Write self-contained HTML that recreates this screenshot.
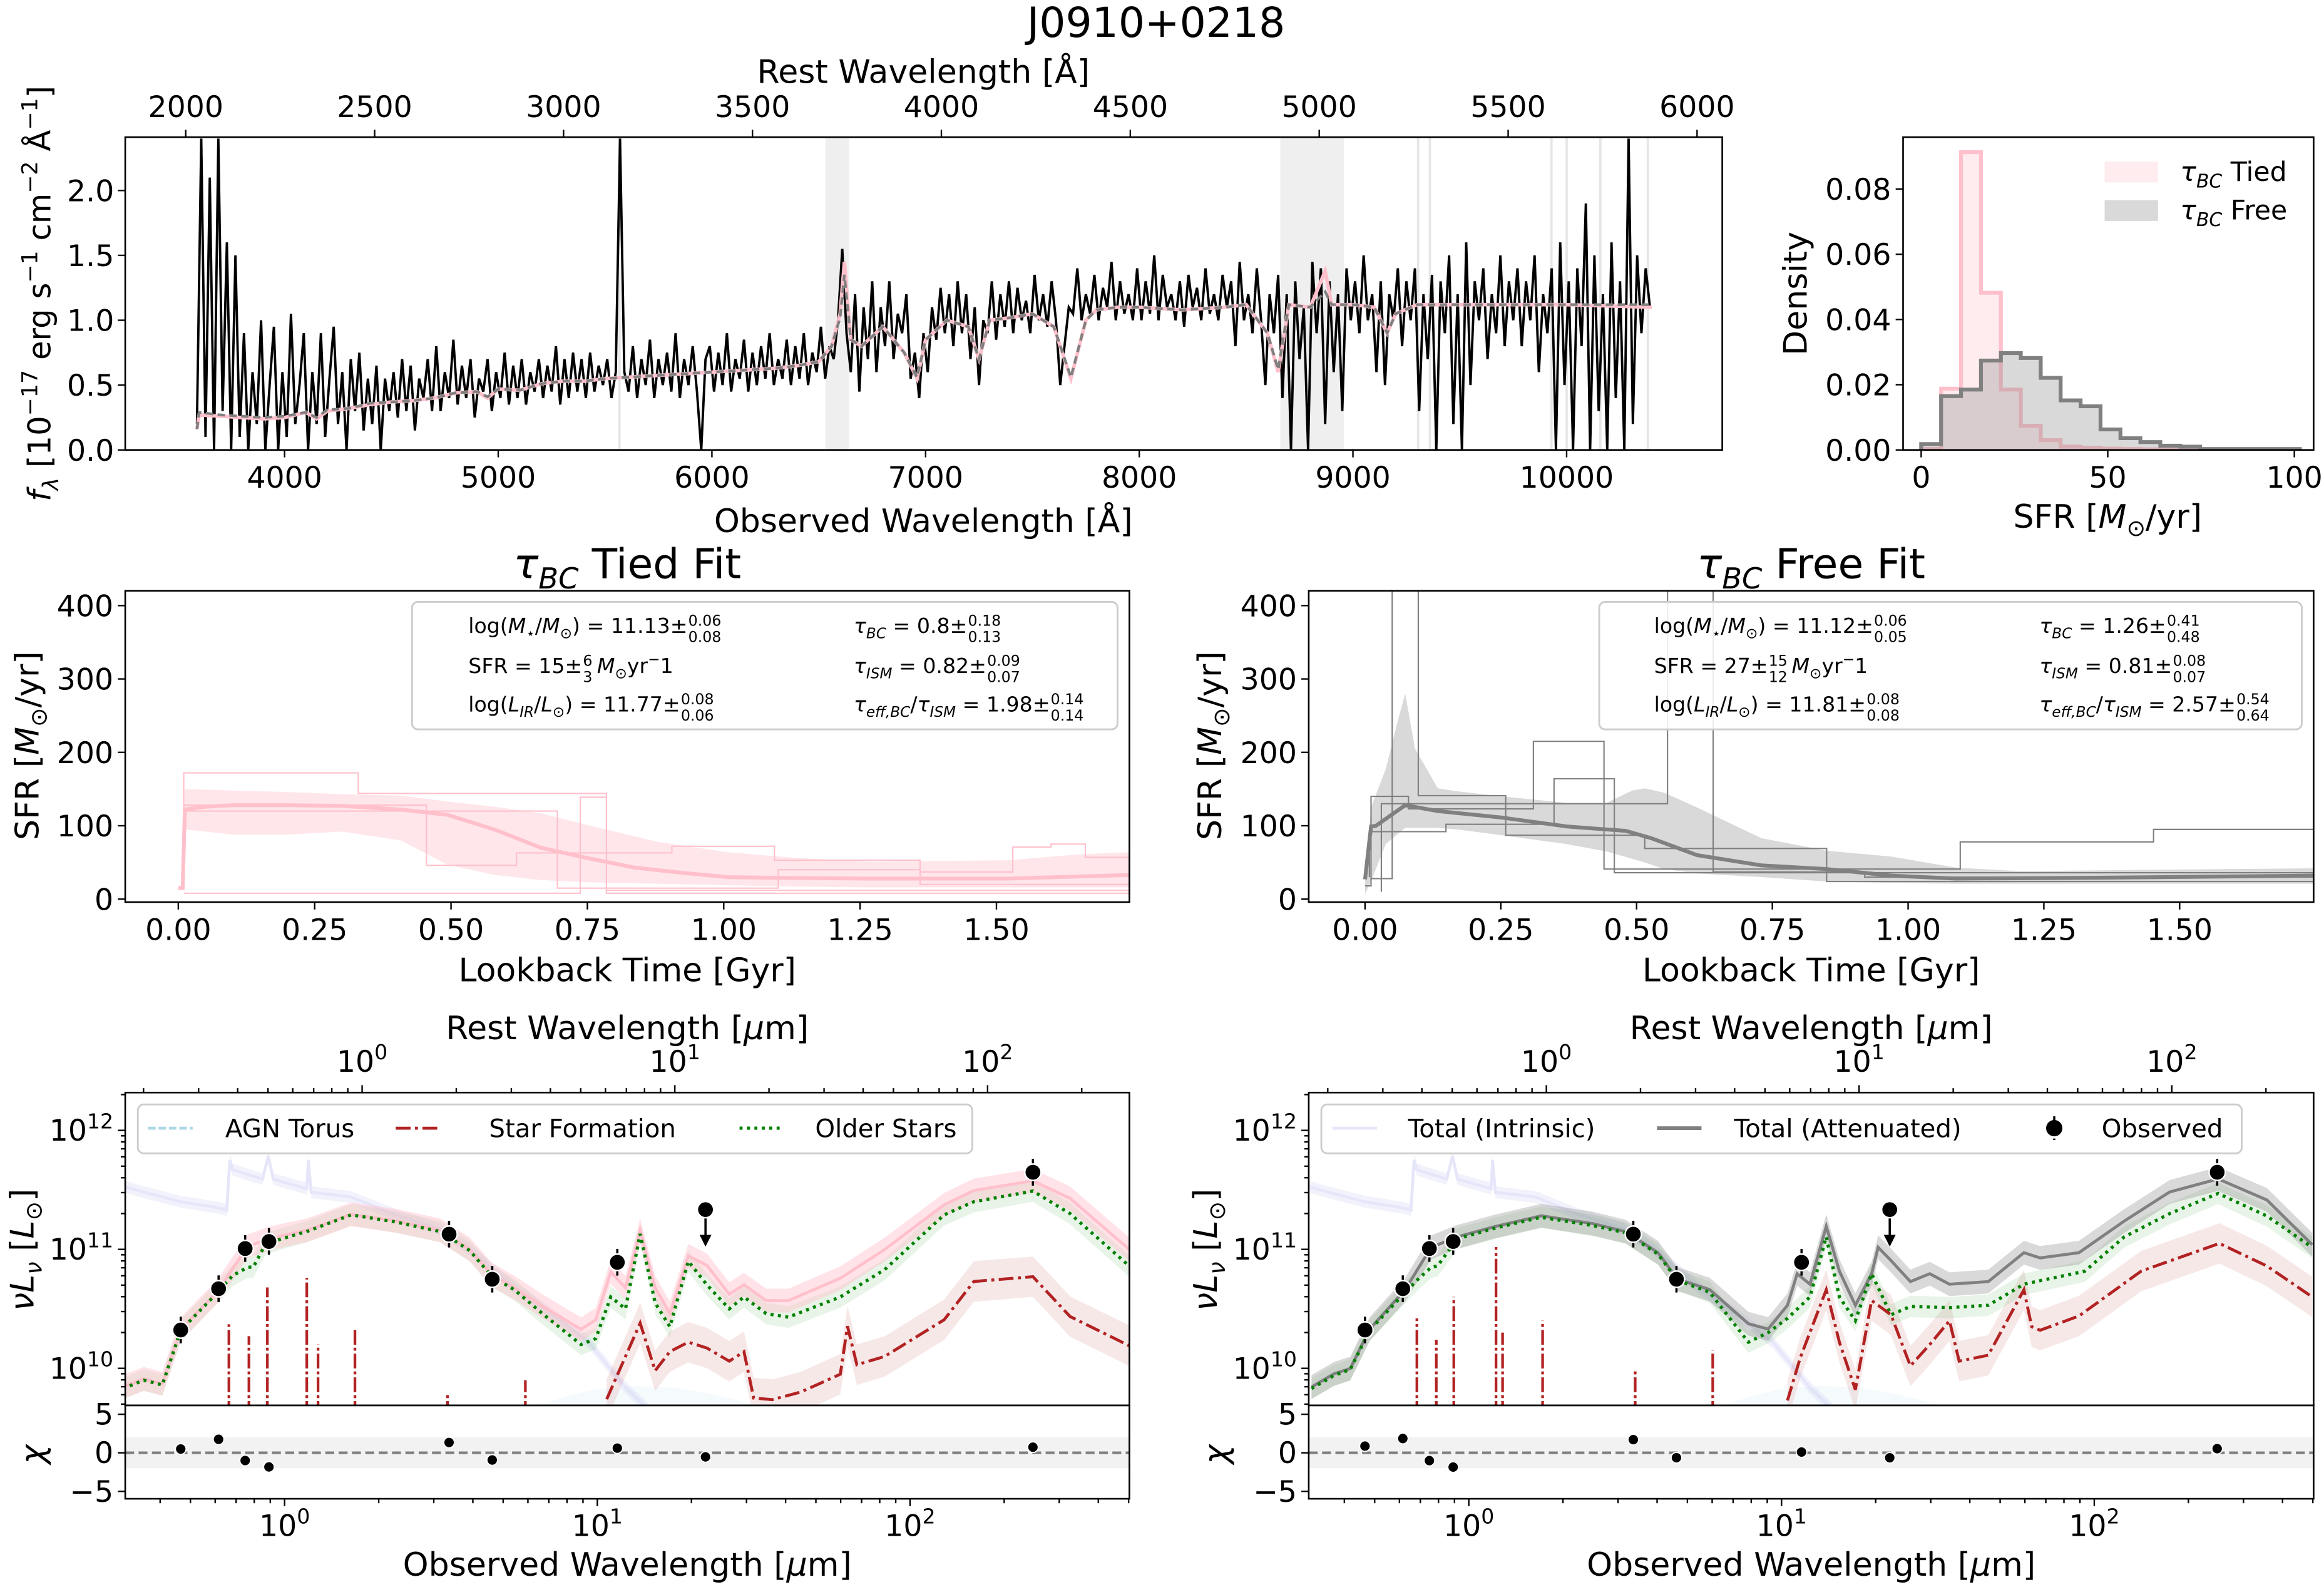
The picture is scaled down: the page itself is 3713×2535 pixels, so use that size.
<!DOCTYPE html>
<html><head><meta charset="utf-8">
<style>
html,body{margin:0;padding:0;background:#fff}
svg{display:block}
text{font-family:"DejaVu Sans","Liberation Sans",sans-serif;fill:#000}
</style></head>
<body>
<svg id="fig" xmlns="http://www.w3.org/2000/svg" width="3713" height="2535" viewBox="0 0 1568 1070.5"><defs id="defs"></defs></svg>
<script>
// ---------------- DATA ----------------
// Spectrum (observed frame, 20 A grid starting 3590 A)
const specLam0 = 3590;
const specDLam = 20;
const specFlux = [
0.2,2.4,0.1,2.1,0.0,2.4,0.3,1.6,0.0,1.5,
0.1,0.9,0.0,0.6,0.2,1.0,0.0,0.5,0.95,0.0,
0.6,0.1,1.05,0.2,0.5,0.9,0.0,0.6,0.2,0.9,
0.1,0.55,0.95,0.2,0.6,0.0,0.7,0.3,0.75,0.15,
0.55,0.2,0.65,0.0,0.55,0.3,0.6,0.25,0.7,0.3,
0.65,0.15,0.55,0.4,0.7,0.3,0.8,0.3,0.6,0.4,
0.85,0.35,0.65,0.4,0.7,0.25,0.55,0.45,0.7,0.3,
0.6,0.4,0.75,0.35,0.65,0.4,0.7,0.35,0.6,0.45,
0.7,0.4,0.65,0.45,0.8,0.35,0.7,0.4,0.75,0.45,
0.7,0.4,0.75,0.45,0.65,0.5,0.7,0.4,0.6,2.4,
0.6,0.45,0.8,0.4,0.7,0.5,0.85,0.4,0.7,0.5,
0.75,0.45,0.9,0.4,0.7,0.5,0.8,0.45,0.0,0.7,
0.8,0.45,0.75,0.5,0.9,0.45,0.7,0.55,0.85,0.45,
0.75,0.5,0.8,0.55,0.9,0.5,0.7,0.55,0.85,0.5,
0.8,0.55,0.9,0.5,0.75,0.6,0.95,0.55,0.8,0.7,
1.0,1.55,0.9,0.6,1.2,0.45,1.1,0.7,1.3,0.6,
1.1,0.8,1.3,0.7,1.05,0.9,1.2,0.55,0.75,0.4,
0.9,0.6,1.1,0.85,1.25,0.9,1.2,0.8,1.3,0.9,
1.2,0.7,1.1,0.5,1.0,0.9,1.3,0.85,1.2,0.95,
1.3,0.9,1.25,1.0,1.15,0.9,1.35,1.0,1.2,0.95,
1.3,1.0,0.5,0.8,1.1,1.05,1.4,1.0,1.2,1.05,
1.35,1.0,1.25,1.1,1.45,1.0,1.3,1.05,1.2,1.0,
1.4,1.0,1.3,1.05,1.5,1.0,1.35,1.1,1.2,1.0,
1.3,0.95,1.35,1.1,1.25,1.0,1.4,1.05,1.2,1.0,
1.35,1.1,1.3,0.8,1.45,1.0,1.2,0.9,1.4,1.0,
0.5,1.2,0.9,1.35,0.4,1.2,0.0,1.3,0.7,1.1,
0.0,1.45,0.9,1.4,0.2,1.3,0.6,1.2,0.3,1.4,
1.0,1.3,0.9,1.5,1.0,1.2,0.6,1.3,0.5,1.2,
1.0,1.4,0.8,1.3,1.0,1.4,0.3,1.2,0.7,1.35,
0.0,1.3,0.9,1.5,0.2,1.2,0.0,1.6,0.5,1.3,
1.0,1.4,0.7,1.2,0.9,1.5,0.8,1.3,1.0,1.4,
0.8,1.3,1.0,1.5,0.6,1.2,0.9,1.4,0.0,1.6,
0.5,1.3,0.0,1.4,0.8,1.9,0.0,1.5,0.3,1.2,
0.0,1.6,0.4,1.3,0.0,2.4,0.2,1.5,0.9,1.4,
1.1];
const modelLam = [3590,3600,3700,3800,3900,4000,4100,4150,4200,4300,4400,4500,4600,4700,4800,4900,4950,5000,5100,5200,5300,5400,5500,5600,5700,5800,5900,6000,6100,6200,6300,6400,6500,6560,6600,6620,6650,6700,6800,6900,6960,7000,7100,7200,7250,7300,7400,7500,7600,7680,7750,7800,7900,8000,8200,8400,8500,8600,8650,8700,8800,8870,8900,9000,9100,9160,9200,9300,9600,10000,10400];
const modelTied = [0.16,0.27,0.26,0.25,0.24,0.25,0.29,0.24,0.30,0.32,0.35,0.37,0.38,0.40,0.44,0.45,0.40,0.47,0.46,0.51,0.53,0.53,0.55,0.56,0.57,0.58,0.59,0.60,0.61,0.62,0.63,0.65,0.68,0.80,1.05,1.45,0.85,0.80,0.95,0.75,0.55,0.85,1.00,0.95,0.70,1.00,1.02,1.05,0.95,0.55,1.00,1.08,1.10,1.10,1.08,1.10,1.12,0.90,0.60,1.12,1.10,1.38,1.12,1.12,1.10,0.90,1.05,1.12,1.12,1.12,1.10];
const modelFree = [0.16,0.29,0.27,0.26,0.25,0.26,0.29,0.25,0.31,0.32,0.36,0.37,0.38,0.40,0.44,0.45,0.41,0.47,0.46,0.51,0.53,0.53,0.55,0.56,0.57,0.58,0.59,0.60,0.61,0.62,0.63,0.65,0.68,0.80,1.02,1.35,0.85,0.80,0.95,0.75,0.56,0.85,1.00,0.95,0.70,1.00,1.02,1.05,0.95,0.56,1.00,1.08,1.10,1.10,1.08,1.10,1.12,0.90,0.62,1.12,1.10,1.22,1.12,1.12,1.10,0.90,1.05,1.12,1.12,1.12,1.12];
const maskRanges = [[6531,6642],[8660,8958]];
const maskLines = [5567,9305,9360,9929,10000,10158,10380];

// SFR histogram
const histBin0 = 0;
const histBinW = 5.34;
const histTied = [0.0003,0.0188,0.0913,0.0482,0.0185,0.0074,0.003,0.001,0.0007,0.0004,0.0003,0.0002,0.0001,0.0001,0,0,0,0,0];
const histFree = [0.0018,0.0165,0.0185,0.0274,0.0297,0.0282,0.0221,0.0152,0.0134,0.0063,0.0036,0.0024,0.0013,0.001,0.0003,0.0003,0.0003,0.0003,0.0003];

// SFH tied
const tiedMedT = [0,0.008,0.012,0.05,0.1,0.2,0.3,0.408,0.493,0.579,0.665,0.75,0.836,0.922,1.007,1.093,1.264,1.522,1.75];
const tiedMedSFR = [15,15,122,126,128,128,127,122,115,95,70,56,43,36,30,29,28,28,33];
const tiedBandT = [0,0.008,0.012,0.1,0.2,0.3,0.408,0.442,0.493,0.579,0.665,0.75,0.879,1.007,1.136,1.264,1.522,1.65,1.75];
const tiedBandHi = [18,18,150,148,146,143,141,138,133,126,117,101,78,64,56,51,53,61,64];
const tiedBandLo = [12,12,95,88,88,92,80,67,47,33,26,23,21,19,17,16,16,16,16];
const tiedDrawT = [
 [0.01,0.01,0.33,0.33,0.785,0.785,1.75],
 [0.01,0.01,0.695,0.695,1.10,1.10,1.36,1.36,1.75],
 [0.01,0.01,0.455,0.455,0.62,0.62,0.905,0.905,1.093,1.093,1.36,1.36,1.53,1.53,1.6,1.6,1.663,1.663,1.75],
 [0.01,0.737,0.737,0.785,0.785,1.75]];
const tiedDrawSFR = [
 [15,172,172,144,144,12,12],
 [15,120,120,15,15,40,40,20,20],
 [15,128,128,46,46,63,63,72,72,53,53,37,37,71,71,75,75,57,57],
 [8,8,139,139,8,8]];

// SFH free
const freeMedT = [0,0.011,0.02,0.074,0.134,0.253,0.372,0.48,0.527,0.611,0.73,0.85,0.969,1.088,1.327,1.75];
const freeMedSFR = [27,99,100,128,120,111,99,93,83,60,46,41,32,28,29,32];
const freeBandT = [0,0.011,0.038,0.062,0.074,0.092,0.134,0.169,0.253,0.372,0.444,0.492,0.515,0.551,0.611,0.73,0.85,0.969,1.088,1.207,1.446,1.75];
const freeBandHi = [40,125,177,248,280,205,151,147,140,131,131,148,151,145,125,83,66,58,43,38,40,42];
const freeBandLo = [7,24,75,90,97,97,97,95,87,75,65,55,50,41,35,30,24,22,21,21,21,21];
const freeDrawT = [
 [0,0.011,0.011,0.08,0.08,0.31,0.31,0.44,0.44,1.096,1.096,1.452,1.452,1.75],
 [0.011,0.05,0.05,0.098,0.098,0.259,0.259,0.515,0.515,0.85,0.85,1.75],
 [0.008,0.008,0.149,0.149,0.348,0.348,0.459,0.459,1.75],
 [0.03,0.03,0.4,0.4,0.557,0.557,0.641,0.641,0.92,0.92,1.75]];
const freeDrawSFR = [
 [18,18,140,140,123,123,215,215,41,41,78,78,95,95],
 [28,28,450,450,141,141,87,87,69,69,24,24],
 [30,92,92,102,102,164,164,36,36],
 [10,130,130,130,130,450,450,37,37,30,30]];

// SED (log10 wavelength in micron, log10 L)
const obsLogLam = [-0.332,-0.211,-0.126,-0.05,0.526,0.664,1.064,1.346,2.393];
const obsLogL = [10.322,10.669,11.007,11.066,11.128,10.749,10.891,11.334,11.648];
const obsUpperLimit = [0,0,0,0,0,0,0,1,0];
const chiTied = [0.49,1.75,-1.0,-1.83,1.34,-0.93,0.61,-0.53,0.73];
const chiFree = [0.87,1.85,-1.01,-1.85,1.71,-0.64,0.1,-0.64,0.54];

const intrLam = [-0.521,-0.45,-0.332,-0.213,-0.185,-0.175,-0.166,-0.071,-0.052,-0.036,0.071,0.076,0.085,0.213,0.355,0.498,0.592,0.735,0.853,0.972,1.09,1.161];
const intrL = [11.535,11.48,11.40,11.35,11.33,11.75,11.67,11.59,11.78,11.59,11.51,11.75,11.48,11.44,11.29,11.17,11.0,10.68,10.46,10.22,9.84,9.66];

const tiedTotLam = [-0.517,-0.45,-0.391,-0.332,-0.213,-0.166,-0.118,-0.047,0.071,0.213,0.355,0.498,0.592,0.664,0.735,0.829,0.948,0.995,1.043,1.09,1.137,1.185,1.232,1.291,1.351,1.422,1.469,1.54,1.611,1.777,1.919,2.109,2.204,2.393,2.512,2.701];
const tiedTotL = [9.844,9.911,9.871,10.328,10.65,10.838,11.025,11.093,11.16,11.294,11.24,11.16,10.999,10.784,10.677,10.515,10.328,10.408,10.811,10.677,11.16,10.677,10.462,10.945,10.864,10.623,10.703,10.569,10.569,10.757,10.999,11.374,11.495,11.576,11.428,10.999];
const tiedOldLam = [-0.517,-0.45,-0.391,-0.332,-0.213,-0.166,-0.118,-0.1,-0.06,0.071,0.213,0.355,0.498,0.592,0.664,0.735,0.829,0.948,0.995,1.043,1.09,1.137,1.185,1.232,1.291,1.351,1.422,1.469,1.54,1.611,1.777,1.919,2.109,2.204,2.393,2.512,2.701];
const tiedOldL = [9.83,9.90,9.86,10.32,10.64,10.78,10.85,10.85,11.05,11.15,11.29,11.23,11.15,10.99,10.77,10.66,10.45,10.2,10.25,10.6,10.5,11.13,10.55,10.35,10.9,10.7,10.5,10.6,10.46,10.43,10.6,10.83,11.29,11.40,11.49,11.30,10.86];
const tiedSFLam = [1.03,1.137,1.185,1.232,1.291,1.351,1.422,1.469,1.50,1.56,1.65,1.777,1.80,1.83,1.919,2.109,2.204,2.393,2.512,2.701];
const tiedSFL = [9.74,10.38,9.98,10.14,10.22,10.17,10.06,10.14,9.75,9.737,9.80,9.95,10.354,10.03,10.10,10.408,10.73,10.77,10.435,10.19];
const tiedLineLam = [-0.178,-0.114,-0.055,0.071,0.107,0.225,0.521,0.770];
const tiedLineL = [10.37,10.27,10.68,10.76,10.20,10.33,9.79,9.90];

const freeTotLam = [-0.503,-0.431,-0.379,-0.317,-0.203,-0.162,-0.12,-0.037,0.087,0.232,0.397,0.501,0.605,0.667,0.77,0.894,0.957,1.019,1.05,1.091,1.143,1.185,1.236,1.288,1.309,1.35,1.412,1.474,1.537,1.661,1.775,1.827,1.951,2.096,2.241,2.396,2.552,2.697];
const freeTotL = [9.843,9.954,9.998,10.33,10.662,10.84,11.017,11.105,11.194,11.282,11.216,11.149,10.972,10.751,10.662,10.375,10.33,10.53,10.795,10.707,11.194,10.817,10.53,10.795,11.017,10.906,10.729,10.795,10.707,10.729,10.972,10.928,10.972,11.238,11.482,11.592,11.415,11.039];
const freeOldLam = [-0.503,-0.431,-0.379,-0.317,-0.203,-0.162,-0.12,-0.1,-0.037,0.087,0.232,0.397,0.501,0.605,0.667,0.77,0.894,0.957,1.019,1.091,1.143,1.185,1.236,1.288,1.35,1.412,1.537,1.661,1.775,1.97,2.096,2.241,2.396,2.552,2.697];
const freeOldL = [9.83,9.94,9.99,10.32,10.64,10.75,10.85,10.86,11.09,11.18,11.27,11.2,11.14,10.96,10.74,10.64,10.22,10.3,10.42,10.6,11.105,10.6,10.4,10.795,10.45,10.52,10.51,10.53,10.707,10.817,11.105,11.30,11.47,11.28,11.017];
const freeSFLam = [1.019,1.06,1.143,1.185,1.236,1.288,1.35,1.412,1.474,1.537,1.568,1.661,1.775,1.80,1.827,1.951,2.15,2.40,2.552,2.697];
const freeSFL = [9.73,10.09,10.66,10.22,9.82,10.57,10.45,10.02,10.20,10.40,10.06,10.11,10.66,10.35,10.32,10.44,10.817,11.05,10.86,10.60];
const freeLineLam = [-0.166,-0.104,-0.048,0.087,0.108,0.236,0.532,0.780];
const freeLineL = [10.42,10.24,10.6,11.02,10.30,10.40,9.98,10.15];

// ---------------- DRAWING ----------------
const NS = 'http://www.w3.org/2000/svg';
const svg = document.getElementById('fig');
const defs = document.getElementById('defs');
function mk(tag, attrs, parent, name) {
  const el = document.createElementNS(NS, tag);
  for (const k in attrs) el.setAttribute(k, attrs[k]);
  
  
  (parent || svg).appendChild(el);
  return el;
}
function rich(parent, x, y, parts, size, anchor, name, rot) {
  const t = mk('text', {x: x, y: y, 'font-size': size, 'text-anchor': anchor || 'start'}, parent, name);
  if (rot) t.setAttribute('transform', 'rotate(-90 ' + x + ' ' + y + ')');
  let off = 0;
  for (const p of parts) {
    const s = p[0], k = p[1] || '';
    const ts = document.createElementNS(NS, 'tspan');
    let target = 0, fs = size;
    if (k.indexOf('sub') >= 0) { target = size * 0.25; fs = size * 0.7; }
    if (k.indexOf('sup') >= 0) { target = -size * 0.42; fs = size * 0.7; }
    ts.setAttribute('dy', (target - off).toFixed(2)); off = target;
    ts.setAttribute('font-size', fs);
    if (k === 'i' || k === 'isub') ts.setAttribute('font-style', 'italic');
    ts.textContent = s;
    t.appendChild(ts);
  }
  return t;
}
function lin(d0, p0, d1, p1) { return v => p0 + (v - d0) * (p1 - p0) / (d1 - d0); }
function pathD(xs, ys, fx, fy) {
  let d = '';
  for (let i = 0; i < xs.length; i++) d += (i ? 'L' : 'M') + fx(xs[i]).toFixed(2) + ',' + fy(ys[i]).toFixed(2);
  return d;
}
function bandD(xs, lo, hi, fx, fy) {
  let d = '';
  for (let i = 0; i < xs.length; i++) d += (i ? 'L' : 'M') + fx(xs[i]).toFixed(2) + ',' + fy(hi[i]).toFixed(2);
  for (let i = xs.length - 1; i >= 0; i--) d += 'L' + fx(xs[i]).toFixed(2) + ',' + fy(lo[i]).toFixed(2);
  return d + 'Z';
}
let clipN = 0;
function panel(x0, y0, x1, y1, name) {
  const g = mk('g', {}, svg, name);
  const id = 'clip' + (clipN++);
  const cp = mk('clipPath', {id: id}, defs, name + '-clip');
  mk('rect', {x: x0, y: y0, width: x1 - x0, height: y1 - y0}, cp, name + '-clip-rect');
  const plot = mk('g', {'clip-path': 'url(#' + id + ')'}, g, name + '-plot-area');
  return {g: g, plot: plot, x0: x0, y0: y0, x1: x1, y1: y1};
}
function frame(P, name) {
  mk('rect', {x: P.x0, y: P.y0, width: P.x1 - P.x0, height: P.y1 - P.y0, fill: 'none', stroke: '#000', 'stroke-width': 1.1}, P.g, name);
}
function tick(g, x1, y1, x2, y2, name) {
  mk('line', {x1: x1, y1: y1, x2: x2, y2: y2, stroke: '#000', 'stroke-width': 1}, g, name);
}
function xticksLin(P, vals, fx, labels, side, ly, size, name) {
  vals.forEach((v, i) => {
    const x = fx(v);
    if (side === 'bottom') tick(P.g, x, P.y1, x, P.y1 + 5, name + '-tick');
    else tick(P.g, x, P.y0, x, P.y0 - 5, name + '-tick');
    rich(P.g, x, ly, [[labels[i], '']], size, 'middle', name + '-label');
  });
}
function yticksLin(P, vals, fy, labels, lx, size, name) {
  vals.forEach((v, i) => {
    const y = fy(v);
    tick(P.g, P.x0, y, P.x0 - 5, y, name + '-tick');
    rich(P.g, lx, y + size * 0.36, [[labels[i], '']], size, 'end', name + '-label');
  });
}
function logTicksX(P, fx, lo, hi, side, ly, labelsOn, name) {
  for (let e = Math.floor(lo) - 1; e <= Math.ceil(hi); e++) {
    for (let m = 1; m <= 9; m++) {
      const lv = e + Math.log10(m);
      if (lv < lo || lv > hi) continue;
      const x = fx(lv), len = m === 1 ? 5 : 3;
      if (side === 'bottom') tick(P.g, x, P.y1, x, P.y1 + len, name + '-tick');
      else tick(P.g, x, P.y0, x, P.y0 - len, name + '-tick');
      if (m === 1 && labelsOn) rich(P.g, x, ly, [['10', ''], [String(e), 'sup']], 20, 'middle', name + '-label');
    }
  }
}

// ---- Title ----
rich(svg, 780, 25, [['J0910+0218', '']], 28, 'middle', 'figure-title');

// ---- Panel 1: spectrum ----
(function () {
  const P = panel(84.5, 92.5, 1162, 303.5, 'spectrum-panel');
  const X = lin(4000, 192, 10000, 1057), Y = lin(0, 303.5, 2, 128.5);
  const RX = lin(2000, 125.3, 6000, 1145);
  maskRanges.forEach(r => {
    mk('rect', {x: X(r[0]), y: P.y0, width: X(r[1]) - X(r[0]), height: P.y1 - P.y0, fill: '#efefef'}, P.plot, 'masked-region');
  });
  maskLines.forEach(l => {
    mk('rect', {x: X(l) - 0.8, y: P.y0, width: 1.6, height: P.y1 - P.y0, fill: '#e6e6e6'}, P.plot, 'masked-line');
  });
  const lams = specFlux.map((f, i) => specLam0 + i * specDLam);
  mk('path', {d: pathD(lams, specFlux, X, Y), fill: 'none', stroke: '#000', 'stroke-width': 1.6, 'stroke-linejoin': 'miter'}, P.plot, 'observed-spectrum');
  mk('path', {d: pathD(modelLam, modelTied, X, Y), fill: 'none', stroke: 'pink', 'stroke-width': 2.4}, P.plot, 'tied-model-spectrum');
  mk('path', {d: pathD(modelLam, modelFree, X, Y), fill: 'none', stroke: '#808080', 'stroke-width': 1.8, 'stroke-dasharray': '5,3'}, P.plot, 'free-model-spectrum');
  frame(P, 'spectrum-frame');
  xticksLin(P, [4000, 5000, 6000, 7000, 8000, 9000, 10000], X, ['4000', '5000', '6000', '7000', '8000', '9000', '10000'], 'bottom', 329, 20, 'observed-x');
  xticksLin(P, [2000, 2500, 3000, 3500, 4000, 4500, 5000, 5500, 6000], RX, ['2000', '2500', '3000', '3500', '4000', '4500', '5000', '5500', '6000'], 'top', 79, 20, 'rest-x');
  yticksLin(P, [0, 0.5, 1, 1.5, 2], Y, ['0.0', '0.5', '1.0', '1.5', '2.0'], 77, 20, 'flux-y');
  rich(svg, 623, 359, [['Observed Wavelength [Å]', '']], 22, 'middle', 'spectrum-x-title');
  rich(svg, 623, 56, [['Rest Wavelength [Å]', '']], 22, 'middle', 'spectrum-rest-x-title');
  rich(svg, 34, 198, [['f', 'i'], ['λ', 'isub'], [' [10', ''], ['−17', 'sup'], [' erg s', ''], ['−1', 'sup'], [' cm', ''], ['−2', 'sup'], [' Å', ''], ['−1', 'sup'], [']', '']], 21, 'middle', 'spectrum-y-title', true);
})();

// ---- Panel 2: histogram ----
(function () {
  const P = panel(1284, 92.5, 1561, 303.5, 'sfr-histogram-panel');
  const X = lin(0, 1296.2, 100, 1548), Y = lin(0, 303.5, 0.08, 127.5);
  function hist(vals, fill, stroke, name) {
    let d = 'M' + X(histBin0).toFixed(2) + ',' + Y(0).toFixed(2);
    vals.forEach((v, i) => {
      const a = histBin0 + i * histBinW, b = a + histBinW;
      d += 'L' + X(a).toFixed(2) + ',' + Y(v).toFixed(2) + 'L' + X(b).toFixed(2) + ',' + Y(v).toFixed(2);
    });
    d += 'L' + X(histBin0 + vals.length * histBinW).toFixed(2) + ',' + Y(0).toFixed(2);
    mk('path', {d: d + 'Z', fill: fill, stroke: 'none'}, P.plot, name + '-fill');
    mk('path', {d: d, fill: 'none', stroke: stroke, 'stroke-width': 2.6}, P.plot, name + '-edge');
  }
  hist(histTied, 'rgba(255,192,203,0.3)', 'pink', 'tied-sfr-hist');
  hist(histFree, 'rgba(128,128,128,0.3)', '#808080', 'free-sfr-hist');
  frame(P, 'histogram-frame');
  xticksLin(P, [0, 50, 100], X, ['0', '50', '100'], 'bottom', 329, 20, 'sfr-x');
  yticksLin(P, [0, 0.02, 0.04, 0.06, 0.08], Y, ['0.00', '0.02', '0.04', '0.06', '0.08'], 1276, 20, 'density-y');
  rich(svg, 1422, 356, [['SFR [', ''], ['M', 'i'], ['⊙', 'sub'], ['/yr]', '']], 22, 'middle', 'histogram-x-title');
  rich(svg, 1219, 198, [['Density', '']], 22, 'middle', 'histogram-y-title', true);
  const lg = mk('g', {}, svg, 'histogram-legend');
  mk('rect', {x: 1420, y: 109, width: 36, height: 14, fill: 'rgba(255,192,203,0.3)'}, lg, 'legend-tied-patch');
  rich(lg, 1471, 122, [['τ', 'i'], ['BC', 'isub'], [' Tied', '']], 18, 'start', 'legend-tied-label');
  mk('rect', {x: 1420, y: 135, width: 36, height: 14, fill: 'rgba(128,128,128,0.3)'}, lg, 'legend-free-patch');
  rich(lg, 1471, 148, [['τ', 'i'], ['BC', 'isub'], [' Free', '']], 18, 'start', 'legend-free-label');
})();

// ---- SFH panels ----
function infoBox(g, bx0, by0, bx1, by1, c1, c2, rows) {
  mk('rect', {x: bx0, y: by0, width: bx1 - bx0, height: by1 - by0, rx: 4, fill: 'rgba(255,255,255,0.85)', stroke: '#cccccc', 'stroke-width': 1.2}, g, 'info-box');
  const ys = [by0 + 21, by0 + 48, by0 + 74];
  rows.forEach((r, i) => {
    [[c1, r[0]], [c2, r[1]]].forEach(cell => {
      const t = rich(g, cell[0], ys[i], cell[1].parts, 14, 'start', 'info-value');
      const w = t.getComputedTextLength();
      rich(g, cell[0] + w + 0.5, ys[i] - 5, [[cell[1].up, '']], 10, 'start', 'info-upper-error');
      rich(g, cell[0] + w + 0.5, ys[i] + 6, [[cell[1].dn, '']], 10, 'start', 'info-lower-error');
    });
  });
}
function sfhPanel(x0, x1, t0px, name, color, bandFill, medT, medS, bT, bLo, bHi, dT, dS, titleWord, rows, ylx) {
  const P = panel(x0, 398.5, x1, 608.5, name);
  const X = lin(0, t0px, 1.5, t0px + 1.5 * (name.indexOf('tied') >= 0 ? 368 : 366.4)), Y = lin(0, 606.5, 400, 408.5);
  mk('path', {d: bandD(bT, bLo, bHi, X, Y), fill: bandFill, stroke: 'none'}, P.plot, 'sfh-uncertainty-band');
  dT.forEach((ts, k) => {
    mk('path', {d: pathD(ts, dS[k], X, Y), fill: 'none', stroke: color, 'stroke-width': 0.9}, P.plot, 'sfh-posterior-draw');
  });
  mk('path', {d: pathD(medT, medS, X, Y), fill: 'none', stroke: color, 'stroke-width': 2.6}, P.plot, 'sfh-median');
  frame(P, name + '-frame');
  xticksLin(P, [0, 0.25, 0.5, 0.75, 1, 1.25, 1.5], X, ['0.00', '0.25', '0.50', '0.75', '1.00', '1.25', '1.50'], 'bottom', 634, 20, name + '-x');
  yticksLin(P, [0, 100, 200, 300, 400], Y, ['0', '100', '200', '300', '400'], x0 - 8, 20, name + '-y');
  const cx = (x0 + x1) / 2;
  rich(svg, cx, 662, [['Lookback Time [Gyr]', '']], 22, 'middle', name + '-x-title');
  rich(svg, ylx, 503, [['SFR [', ''], ['M', 'i'], ['⊙', 'sub'], ['/yr]', '']], 22, 'middle', name + '-y-title', true);
  rich(svg, cx, 390, [['τ', 'i'], ['BC', 'isub'], [' ' + titleWord + ' Fit', '']], 28, 'middle', name + '-title');
  return P;
}
const tiedRows = [
  [{parts: [['log(', ''], ['M', 'i'], ['⋆', 'sub'], ['/', ''], ['M', 'i'], ['⊙', 'sub'], [') = 11.13±', '']], up: '0.06', dn: '0.08'},
   {parts: [['τ', 'i'], ['BC', 'isub'], [' = 0.8±', '']], up: '0.18', dn: '0.13'}],
  [{parts: [['SFR = 15±', '']], up: '6', dn: '3'},
   {parts: [['τ', 'i'], ['ISM', 'isub'], [' = 0.82±', '']], up: '0.09', dn: '0.07'}],
  [{parts: [['log(', ''], ['L', 'i'], ['IR', 'isub'], ['/', ''], ['L', 'i'], ['⊙', 'sub'], [') = 11.77±', '']], up: '0.08', dn: '0.06'},
   {parts: [['τ', 'i'], ['eff,BC', 'isub'], ['/', ''], ['τ', 'i'], ['ISM', 'isub'], [' = 1.98±', '']], up: '0.14', dn: '0.14'}]];
const freeRows = [
  [{parts: [['log(', ''], ['M', 'i'], ['⋆', 'sub'], ['/', ''], ['M', 'i'], ['⊙', 'sub'], [') = 11.12±', '']], up: '0.06', dn: '0.05'},
   {parts: [['τ', 'i'], ['BC', 'isub'], [' = 1.26±', '']], up: '0.41', dn: '0.48'}],
  [{parts: [['SFR = 27±', '']], up: '15', dn: '12'},
   {parts: [['τ', 'i'], ['ISM', 'isub'], [' = 0.81±', '']], up: '0.08', dn: '0.07'}],
  [{parts: [['log(', ''], ['L', 'i'], ['IR', 'isub'], ['/', ''], ['L', 'i'], ['⊙', 'sub'], [') = 11.81±', '']], up: '0.08', dn: '0.08'},
   {parts: [['τ', 'i'], ['eff,BC', 'isub'], ['/', ''], ['τ', 'i'], ['ISM', 'isub'], [' = 2.57±', '']], up: '0.54', dn: '0.64'}]];
const PT = sfhPanel(84.5, 762, 120.3, 'tied-sfh-panel', 'pink', 'rgba(255,192,203,0.4)', tiedMedT, tiedMedSFR, tiedBandT, tiedBandLo, tiedBandHi, tiedDrawT, tiedDrawSFR, 'Tied', tiedRows, 26);
const PF = sfhPanel(883, 1561, 921, 'free-sfh-panel', '#808080', 'rgba(128,128,128,0.3)', freeMedT, freeMedSFR, freeBandT, freeBandLo, freeBandHi, freeDrawT, freeDrawSFR, 'Free', freeRows, 824);
// SFR annotation with unit after the ± stack
function addInfo(P, bx0, bx1, c1, c2, rows) {
  infoBox(P.g, bx0, 406, bx1, 492, c1, c2, rows);
}
addInfo(PT, 278, 754, 316, 576, tiedRows);
addInfo(PF, 1079, 1553, 1116, 1376, freeRows);
// units after SFR values
(function () {
  const items = [[PT, 316, '15±', 8], [PF, 1116, '27±', 14]];
  items.forEach(it => {
    const tmp = rich(it[0].g, it[1], 454, [['SFR = ' + it[2], '']], 14, 'start', 'sfr-value-measure');
    const w = tmp.getComputedTextLength();
    tmp.remove();
    rich(it[0].g, it[1] + w + it[3] + 2, 454, [['M', 'i'], ['⊙', 'sub'], ['yr', ''], ['−', 'sup'], ['1', '']], 14, 'start', 'sfr-unit');
  });
})();

// ---- SED panels ----
function sedPanel(x0, x1, lam0px, name, withLegend, tot, old, sf, lines, chi, totColor, totBand, legendItems) {
  const P = panel(x0, 737, x1, 948, name);
  const R = panel(x0, 948, x1, 1011, name + '-residual');
  const X = lin(0, lam0px, 1, lam0px + 211), Y = lin(12, 762.5, 11, 842.75), RY = lin(0, 980, 5, 954);
  const lo = (x0 - lam0px) / 211, hi = (x1 - lam0px) / 211;
  // intrinsic
  mk('path', {d: bandD(intrLam, intrL.map(v => v - 0.05), intrL.map(v => v + 0.05), X, Y), fill: 'rgba(230,230,250,0.5)'}, P.plot, 'intrinsic-band');
  mk('path', {d: pathD(intrLam, intrL, X, Y), fill: 'none', stroke: '#e6e6fa', 'stroke-width': 2}, P.plot, 'total-intrinsic-line');
  // faint AGN torus component
  mk('path', {d: 'M' + X(0.75) + ',' + Y(9.6) + 'Q' + X(1.1) + ',' + Y(10.1) + ' ' + X(1.6) + ',' + Y(9.6) + 'Z', fill: 'rgba(173,216,230,0.12)'}, P.plot, 'agn-torus-band');
  // bands
  mk('path', {d: bandD(sf[0], sf[1].map(v => v - 0.17), sf[1].map(v => v + 0.17), X, Y), fill: 'rgba(178,34,34,0.1)'}, P.plot, 'star-formation-band');
  mk('path', {d: bandD(old[0], old[1].map(v => v - 0.09), old[1].map(v => v + 0.09), X, Y), fill: 'rgba(0,128,0,0.09)'}, P.plot, 'older-stars-band');
  mk('path', {d: bandD(tot[0], tot[1].map(v => v - 0.1), tot[1].map(v => v + 0.1), X, Y), fill: totBand}, P.plot, 'total-band');
  // emission lines of SF component
  lines[0].forEach((l, i) => {
    mk('line', {x1: X(l), y1: Y(9.6), x2: X(l), y2: Y(lines[1][i]), stroke: '#b22222', 'stroke-width': 1.8, 'stroke-dasharray': '10,2,2,2'}, P.plot, 'sf-emission-line');
  });
  mk('path', {d: pathD(tot[0], tot[1], X, Y), fill: 'none', stroke: totColor, 'stroke-width': 2}, P.plot, 'total-attenuated-line');
  mk('path', {d: pathD(old[0], old[1], X, Y), fill: 'none', stroke: 'green', 'stroke-width': 2.2, 'stroke-dasharray': '2,3'}, P.plot, 'older-stars-line');
  mk('path', {d: pathD(sf[0], sf[1], X, Y), fill: 'none', stroke: '#b22222', 'stroke-width': 2, 'stroke-dasharray': '10,3,2,3'}, P.plot, 'star-formation-line');
  // observed points
  obsLogLam.forEach((l, i) => {
    const x = X(l), y = Y(obsLogL[i]);
    if (obsUpperLimit[i]) {
      mk('line', {x1: x, y1: y, x2: x, y2: y + 22, stroke: '#000', 'stroke-width': 1.5}, P.plot, 'upper-limit-arrow');
      mk('path', {d: 'M' + (x - 4) + ',' + (y + 17) + 'L' + (x + 4) + ',' + (y + 17) + 'L' + x + ',' + (y + 25) + 'Z', fill: '#000'}, P.plot, 'upper-limit-arrowhead');
    } else {
      mk('line', {x1: x, y1: y - 9, x2: x, y2: y + 9, stroke: '#000', 'stroke-width': 1.5, 'stroke-dasharray': '3,2'}, P.plot, 'observed-errorbar');
    }
    mk('circle', {cx: x, cy: y, r: 5.5, fill: '#000', stroke: '#fff', 'stroke-width': 1}, P.plot, 'observed-point');
  });
  // residuals
  mk('rect', {x: x0, y: RY(2), width: x1 - x0, height: RY(-2) - RY(2), fill: '#f2f2f2'}, R.plot, 'chi-band');
  mk('line', {x1: x0, y1: RY(0), x2: x1, y2: RY(0), stroke: '#808080', 'stroke-width': 1.8, 'stroke-dasharray': '6,3'}, R.plot, 'chi-zero-line');
  chi.forEach((c, i) => {
    mk('circle', {cx: X(obsLogLam[i]), cy: RY(c), r: 3.6, fill: '#000', stroke: '#fff', 'stroke-width': 0.8}, R.plot, 'chi-point');
  });
  frame(P, name + '-frame');
  frame(R, name + '-residual-frame');
  // ticks
  logTicksX(R, X, lo, hi, 'bottom', 1036, true, name + '-obs-x');
  logTicksX(P, l => X(l + Math.log10(1.77)), lo - 0.248, hi - 0.248, 'top', 723, true, name + '-rest-x');
  for (let e = 9; e <= 12; e++) {
    for (let m = 1; m <= 9; m++) {
      const lv = e + Math.log10(m);
      if (lv < 9.69 || lv > 12.32) continue;
      const y = Y(lv);
      tick(P.g, x0, y, x0 - (m === 1 ? 5 : 3), y, name + '-y-tick');
      if (m === 1 && e >= 10) rich(P.g, x0 - 8, y + 7, [['10', ''], [String(e), 'sup']], 20, 'end', name + '-y-label');
    }
  }
  [[5, '5'], [0, '0'], [-5, '−5']].forEach(v => {
    tick(R.g, x0, RY(v[0]), x0 - 5, RY(v[0]), name + '-chi-tick');
    rich(R.g, x0 - 8, RY(v[0]) + 7, [[v[1], '']], 20, 'end', name + '-chi-label');
  });
  const cx = (x0 + x1) / 2;
  rich(svg, cx, 1063, [['Observed Wavelength [', ''], ['μ', 'i'], ['m]', '']], 22, 'middle', name + '-x-title');
  rich(svg, cx, 701, [['Rest Wavelength [', ''], ['μ', 'i'], ['m]', '']], 22, 'middle', name + '-rest-x-title');
  rich(svg, x0 - 62, 843, [['ν', 'i'], ['L', 'i'], ['ν', 'isub'], [' [', ''], ['L', 'i'], ['⊙', 'sub'], [']', '']], 22, 'middle', name + '-y-title', true);
  rich(svg, x0 - 55, 981, [['χ', 'i']], 22, 'middle', name + '-chi-title', true);
  // legend
  const lg = mk('g', {}, P.g, name + '-legend');
  mk('rect', {x: x0 + 8.5, y: 745, width: legendItems.w, height: 33, rx: 4, fill: 'rgba(255,255,255,0.85)', stroke: '#cccccc', 'stroke-width': 1.2}, lg, 'legend-box');
  legendItems.items.forEach(it => {
    if (it.marker) {
      mk('line', {x1: it.x + 14, y1: 753, x2: it.x + 14, y2: 769, stroke: '#000', 'stroke-width': 1.5, 'stroke-dasharray': '3,2'}, lg, 'legend-marker-errorbar');
      mk('circle', {cx: it.x + 14, cy: 761, r: 5.5, fill: '#000'}, lg, 'legend-marker');
    } else {
      const a = {x1: it.x, y1: 761, x2: it.x + 30, y2: 761, stroke: it.color, 'stroke-width': it.w || 2};
      if (it.dash) a['stroke-dasharray'] = it.dash;
      mk('line', a, lg, 'legend-swatch');
    }
    rich(lg, it.tx, 767, [[it.label, '']], 17, 'start', 'legend-label');
  });
}
sedPanel(84.5, 762, 192, 'tied-sed-panel', true,
  [tiedTotLam, tiedTotL], [tiedOldLam, tiedOldL], [tiedSFLam, tiedSFL], [tiedLineLam, tiedLineL], chiTied,
  'pink', 'rgba(255,192,203,0.45)',
  {w: 563, items: [
    {x: 100, color: '#add8e6', dash: '5,2', label: 'AGN Torus', tx: 152},
    {x: 267, color: '#b22222', dash: '10,3,2,3', label: 'Star Formation', tx: 330},
    {x: 499, color: 'green', dash: '2,3', w: 2.2, label: 'Older Stars', tx: 550}]});
sedPanel(883, 1561, 991, 'free-sed-panel', true,
  [freeTotLam, freeTotL], [freeOldLam, freeOldL], [freeSFLam, freeSFL], [freeLineLam, freeLineL], chiFree,
  '#808080', 'rgba(128,128,128,0.3)',
  {w: 621, items: [
    {x: 899, color: '#e6e6fa', label: 'Total (Intrinsic)', tx: 950},
    {x: 1118, color: '#808080', w: 2.5, label: 'Total (Attenuated)', tx: 1170},
    {x: 1372, marker: true, label: 'Observed', tx: 1418}]});
</script>
</body></html>
